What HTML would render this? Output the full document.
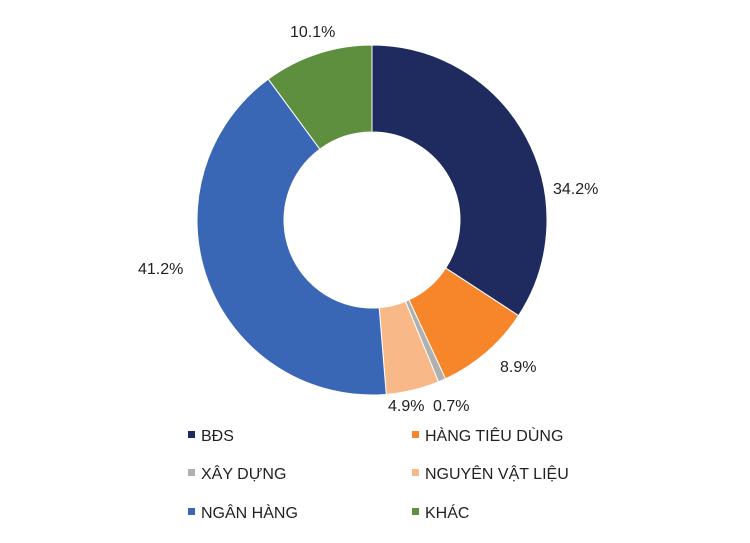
<!DOCTYPE html>
<html><head><meta charset="utf-8"><style>
body{margin:0;background:#fff;width:750px;height:538px;overflow:hidden;font-family:"Liberation Sans","DejaVu Sans",sans-serif}
text{font-family:"Liberation Sans","DejaVu Sans",sans-serif;fill:#222}
</style></head><body>
<svg id="chart" width="750" height="538" viewBox="0 0 750 538"></svg>
<script>
const categories=["BĐS","HÀNG TIÊU DÙNG","XÂY DỰNG","NGUYÊN VẬT LIỆU","NGÂN HÀNG","KHÁC"];
const values=[34.2,8.9,0.7,4.9,41.2,10.1];
const valueLabels=["34.2%","8.9%","0.7%","4.9%","41.2%","10.1%"];
const colors=["#1f2a5e","#f7862a","#b0b0b0","#f8b888","#3a67b5","#5d8f3f"];
const labelPos=[[553,194],[500,372],[433,411],[388,411],[138,274],[290,37]];
const svg=document.getElementById('chart');
const NS='http://www.w3.org/2000/svg';
const cx=372,cy=220,R=175,r=88;
const total=values.reduce((a,b)=>a+b,0);
function pt(a,rad){return [cx+rad*Math.sin(a),cy-rad*Math.cos(a)];}
let acc=0;
values.forEach((v,i)=>{
  const a0=acc/total*2*Math.PI; acc+=v; const a1=acc/total*2*Math.PI;
  const large=(a1-a0)>Math.PI?1:0;
  const [x0,y0]=pt(a0,R),[x1,y1]=pt(a1,R),[x2,y2]=pt(a1,r),[x3,y3]=pt(a0,r);
  const p=document.createElementNS(NS,'path');
  p.setAttribute('d',`M${x0},${y0}A${R},${R} 0 ${large} 1 ${x1},${y1}L${x2},${y2}A${r},${r} 0 ${large} 0 ${x3},${y3}Z`);
  p.setAttribute('fill',colors[i]);p.setAttribute('stroke','#fff');p.setAttribute('stroke-width','1');
  
  
  svg.appendChild(p);
  const t=document.createElementNS(NS,'text');
  t.setAttribute('x',labelPos[i][0]);t.setAttribute('y',labelPos[i][1]);t.setAttribute('font-size','16');
  t.textContent=valueLabels[i];
  
  
  svg.appendChild(t);
});
const legX=[188,412],legY=[435,473,512];
categories.forEach((c,i)=>{
  const x=legX[i%2],y=legY[Math.floor(i/2)];
  const g=document.createElementNS(NS,'g');
  
  
  const s=document.createElementNS(NS,'rect');
  s.setAttribute('x',x);s.setAttribute('y',y-4);s.setAttribute('width',7);s.setAttribute('height',7);s.setAttribute('fill',colors[i]);
  g.appendChild(s);
  const t=document.createElementNS(NS,'text');
  t.setAttribute('x',x+13);t.setAttribute('y',y+6);t.setAttribute('font-size','16');
  t.textContent=c;g.appendChild(t);
  svg.appendChild(g);
});
</script>
</body></html>
